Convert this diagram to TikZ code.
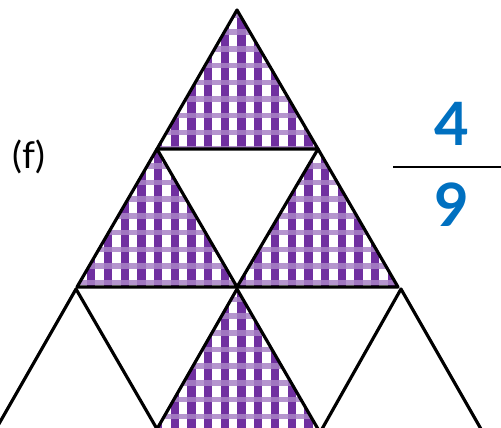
\documentclass[tikz,border=0pt]{standalone}
\usepackage{fontspec}
\setmainfont{Lato}
\definecolor{lila}{RGB}{112,48,160}
\definecolor{blau}{RGB}{0,112,192}

%Karomuster im Dreieck
\newcommand{\karo}[3]{%
  \begin{scope}
    \clip #1 -- #2 -- #3 -- cycle;
    \fill[white] #1 -- #2 -- #3 -- cycle;
    \foreach \i in {0,...,30}
      \fill[lila] ({-13.1+16.7*\i},0) rectangle ++(8.3,430);
    \foreach \j in {0,...,26}
      \fill[lila!60!white, fill opacity=0.85] (0,{-4+16.7*\j}) rectangle ++(501,5.5);
  \end{scope}}

\begin{document}
\begin{tikzpicture}[x=0.02cm, y=-0.02cm,
    rand/.style={line width=1.8pt, line join=round},
    ziffer/.style={text=blau, font=\fontsize{34}{34}\selectfont\bfseries}]
    \useasboundingbox (0,0) rectangle (501,427);
    \clip (0,0) rectangle (501,427);

    %Muster
    \karo{(237,10)}{(157,149)}{(318,149)}
    \karo{(157,149)}{(77,287)}{(237,287)}
    \karo{(318,149)}{(237,287)}{(398,287)}
    \karo{(237,289)}{(157,429)}{(318,429)}

    %Dreiecke
    \draw[rand] (237,10) -- (157,149) -- (318,149) -- cycle;
    \draw[rand] (157,149) -- (77,287) -- (237,287) -- cycle;
    \draw[rand] (318,149) -- (237,287) -- (398,287) -- cycle;
    \draw[rand] (-4,429) -- (76,289) -- (157,429);
    \draw[rand] (157,429) -- (237,289) -- (318,429);
    \draw[rand] (322,429) -- (401,289) -- (481,429);

    %Beschriftung
    \node (teil) at (29,157) {\fontsize{21}{21}\selectfont (f)};
    \node[ziffer] (zaehler) at (452,124) {4};
    \node[ziffer] (nenner) at (452,205) {9};
    \coordinate (bruchL) at (393,167);
    \coordinate (bruchR) at (501,167);
    \draw[line width=1pt] (bruchL) -- (bruchR);
\end{tikzpicture}
\end{document}
